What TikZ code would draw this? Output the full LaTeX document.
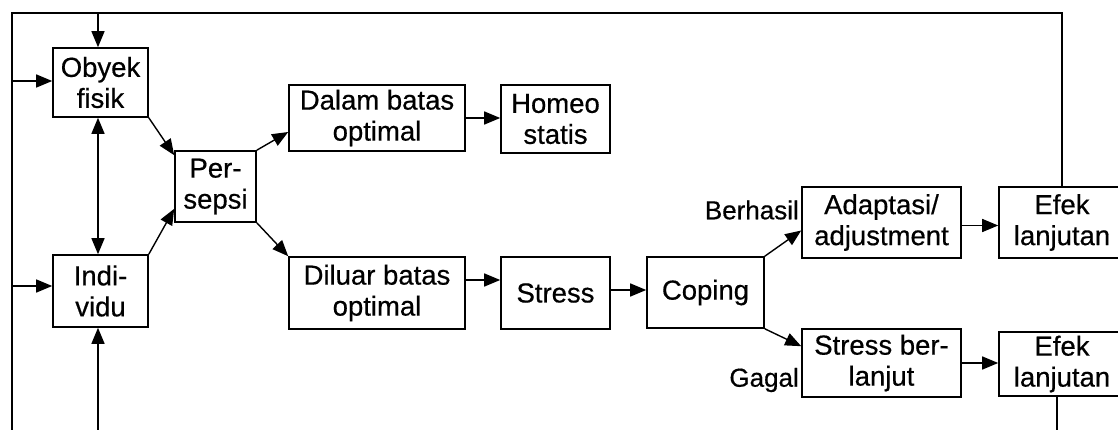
\documentclass[tikz,border=0pt]{standalone}
\usepackage{fontspec}
\setmainfont{Liberation Sans}
\newfontfamily\boxfont{Liberation Sans}[FakeBold=0.5]
\usetikzlibrary{arrows.meta}
\begin{document}
\begin{tikzpicture}[x=1pt,y=-1pt,
  box/.style={draw,line width=1.6pt,inner sep=0pt,align=center,
    font=\boxfont\fontsize{27.5}{31}\selectfont},
  conn/.style={line width=1.4pt},
  arr/.style={conn,-{Triangle[length=16pt,width=13pt]}},
  lbl/.style={font=\boxfont\fontsize{26}{30}\selectfont,inner sep=0pt}]
\clip (0,0) rectangle (1118,430);
\fill[white] (0,0) rectangle (1118,430);
% boxes
\node[box,minimum width=95pt,minimum height=69pt] (obyek) at (100.5,82.5) {Obyek\\fisik};
\node[box,minimum width=95pt,minimum height=72pt] (indi) at (100.5,291) {Indi-\\vidu};
\node[box,minimum width=81pt,minimum height=71pt] (pers) at (215.5,186.5) {Per-\\sepsi};
\node[box,minimum width=176pt,minimum height=66pt] (dalam) at (377,118) {Dalam batas\\optimal};
\node[box,minimum width=109pt,minimum height=68pt] (homeo) at (555.5,119) {Homeo\\statis};
\node[box,minimum width=176pt,minimum height=72pt] (diluar) at (377,293) {Diluar batas\\optimal};
\node[box,minimum width=109pt,minimum height=72pt] (stress) at (555.5,293) {Stress};
\node[box,minimum width=117pt,minimum height=71pt] (coping) at (705.5,292.5) {Coping};
\node[box,minimum width=159pt,minimum height=71pt] (adapt) at (881.5,222.5) {Adaptasi/\\adjustment};
\node[box,minimum width=126pt,minimum height=71pt] (efek1) at (1062,222.5) {Efek\\lanjutan};
\node[box,minimum width=159pt,minimum height=68pt] (stressb) at (881.5,363) {Stress ber-\\lanjut};
\node[box,minimum width=126pt,minimum height=64pt] (efek2) at (1062,364) {Efek\\lanjutan};
% labels
\node[lbl,anchor=east] (berhasil) at (799,210) {Berhasil};
\node[lbl,anchor=east] (gagal) at (799,380) {Gagal};
% coordinates for frame
\coordinate (tl) at (12,13);
\coordinate (bl) at (12,432);
\coordinate (tr) at (1062,13);
\coordinate (ob) at (98,13);
\coordinate (lo) at (12,81);
\coordinate (li) at (12,286);
\coordinate (bi) at (98,432);
\coordinate (be) at (1057,432);
% frame lines
\draw[conn] (efek1.north) -- (tr) -- (tl) -- (bl);
\draw[arr] (ob) -- (obyek.north -| ob);
\draw[arr] (lo) -- (obyek.west |- lo);
\draw[arr] (li) -- (indi.west |- li);
\draw[arr] (bi) -- (indi.south -| bi);
\draw[conn] (efek2.south -| be) -- (be);
% internal connectors
\draw[conn,{Triangle[length=16pt,width=13pt]}-{Triangle[length=16pt,width=13pt]}] (obyek.south -| 98,0) -- (indi.north -| 98,0);
\draw[arr] (obyek.south east) -- ([yshift=-5pt]pers.north west);
\draw[arr] (indi.north east) -- ([yshift=14pt]pers.south west);
\draw[arr] (pers.north east) -- ([yshift=-14pt]dalam.west);
\draw[arr] (pers.south east) -- (diluar.north west);
\draw[arr] (dalam.east) -- (homeo.west |- dalam.east);
\draw[arr] ([yshift=13pt]diluar.east) -- ([yshift=13pt]diluar.east -| stress.west);
\draw[arr] ([yshift=3pt]stress.east) -- ([yshift=3pt]stress.east -| coping.west);
\draw[arr] (coping.north east) -- ([yshift=-8pt]adapt.west);
\draw[arr] (coping.south east) -- ([yshift=-18pt]stressb.north west);
\draw[arr] ([yshift=-3pt]adapt.east) -- ([yshift=-3pt]adapt.east -| efek1.west);
\draw[arr] (stressb.east) -- (stressb.east -| efek2.west);
\end{tikzpicture}
\end{document}
